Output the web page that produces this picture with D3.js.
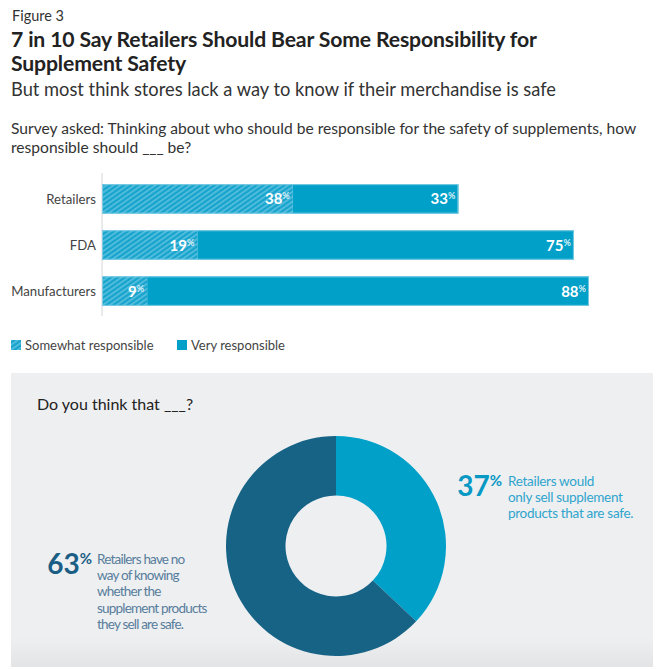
<!DOCTYPE html>
<html>
<head>
<meta charset="utf-8">
<script src="https://cdn.jsdelivr.net/npm/d3@7"></script>
<style>
  html, body { margin: 0; padding: 0; background: #fff; }
  svg { display: block; font-family: Lato, "Open Sans", sans-serif; }
</style>
</head>
<body>
<svg id="chart" width="661" height="670"></svg>
<script>
// ---- data ----
const categories = ["Retailers", "FDA", "Manufacturers"];
const somewhatValues = [38, 19, 9];
const veryValues = [33, 75, 88];
const seriesNames = ["Somewhat responsible", "Very responsible"];
const donutValues = [37, 63];
const donutTextRight = ["Retailers would", "only sell supplement", "products that are safe."];
const donutTextLeft = ["Retailers have no", "way of knowing", "whether the", "supplement products", "they sell are safe."];

const svg = d3.select("#chart");
const BLUE = "#00a0c9";
const DARK = "#166386";

const defs = svg.append("defs");
const pat = defs.append("pattern").attr("id", "hatch").attr("patternUnits", "userSpaceOnUse")
  .attr("width", 4).attr("height", 4).attr("patternTransform", "rotate(-35)");
pat.append("rect").attr("width", 4).attr("height", 4).attr("fill", "#16a4cd");
pat.append("rect").attr("width", 4).attr("height", 1.6).attr("fill", "#5cc0df");
const grad = defs.append("linearGradient").attr("id", "panelGrad").attr("x1", 0).attr("x2", 0).attr("y1", 0).attr("y2", 1);
grad.append("stop").attr("offset", "0.9").attr("stop-color", "#eeeff1");
grad.append("stop").attr("offset", "1").attr("stop-color", "#e3e4e6");

// ---- header texts ----
svg.append("text").attr("x", 12).attr("y", 21).attr("font-size", 14.5).attr("fill", "#333").text("Figure 3");
svg.append("text").attr("x", 11).attr("y", 47).attr("font-size", 21.2).attr("font-weight", 700).attr("fill", "#222")
  .attr("letter-spacing", -0.15).text("7 in 10 Say Retailers Should Bear Some Responsibility for");
svg.append("text").attr("x", 11).attr("y", 71).attr("font-size", 21.2).attr("font-weight", 700).attr("fill", "#222")
  .attr("letter-spacing", -0.15).text("Supplement Safety");
svg.append("text").attr("x", 11).attr("y", 96).attr("font-size", 18.3).attr("fill", "#333")
  .text("But most think stores lack a way to know if their merchandise is safe");
const q = svg.append("text").attr("font-size", 15.6).attr("fill", "#333");
q.append("tspan").attr("x", 11).attr("y", 134)
  .text("Survey asked: Thinking about who should be responsible for the safety of supplements, how");
q.append("tspan").attr("x", 11).attr("y", 153).text("responsible should ___ be?");

// ---- bar chart ----
const x = d3.scaleLinear().domain([0, 100]).range([102, 604]);
const y = d3.scaleBand().domain(categories).range([174, 316]).paddingInner(0.36).paddingOuter(0.22);

svg.append("line").attr("x1", 102).attr("x2", 102).attr("y1", 173).attr("y2", 316)
  .attr("stroke", "#d6d6d6").attr("stroke-width", 1);

const rows = categories.map((c, i) => ({ c, s: somewhatValues[i], v: veryValues[i] }));
const g = svg.append("g");
rows.forEach(d => {
  const y0 = y(d.c), h = y.bandwidth();
  g.append("rect").attr("x", x(0)).attr("y", y0).attr("width", x(d.s) - x(0)).attr("height", h)
    .attr("fill", "url(#hatch)");
  g.append("rect").attr("x", x(d.s)).attr("y", y0).attr("width", x(d.s + d.v) - x(d.s)).attr("height", h)
    .attr("fill", BLUE);
  g.append("rect").attr("x", x(0) + 0.5).attr("y", y0 + 0.5).attr("width", x(d.s + d.v) - x(0) - 1).attr("height", h - 1)
    .attr("fill", "none").attr("stroke", "#7ccbe4").attr("stroke-width", 1);
  g.append("text").attr("x", 96).attr("y", y0 + h / 2 + 5).attr("text-anchor", "end")
    .attr("font-size", 13.2).attr("fill", "#444").text(d.c);
  [[d.s, d.s], [d.v, d.s + d.v]].forEach(([val, end]) => {
    const t = g.append("text").attr("x", x(end) - 3).attr("y", y0 + h / 2 + 5.5).attr("text-anchor", "end")
      .attr("fill", "#fff").attr("font-weight", 700).attr("font-size", 15);
    t.append("tspan").text(val);
    t.append("tspan").attr("font-size", 9).attr("dy", -5).attr("fill", "#d8eef6").text("%");
  });
});

// legend
const leg = svg.append("g");
[[11, 25, "url(#hatch)"], [177, 191, BLUE]].forEach(([sx, tx, fill], i) => {
  leg.append("rect").attr("x", sx).attr("y", 340).attr("width", 10).attr("height", 10).attr("fill", fill);
  leg.append("text").attr("x", tx).attr("y", 349.5).attr("font-size", 13).attr("fill", "#444").text(seriesNames[i]);
});

// ---- donut panel ----
svg.append("rect").attr("x", 11).attr("y", 373).attr("width", 642).attr("height", 294).attr("fill", "url(#panelGrad)");
svg.append("text").attr("x", 37).attr("y", 410).attr("font-size", 16).attr("fill", "#222").text("Do you think that ___?");

const pie = d3.pie().sort(null).value(d => d);
const arc = d3.arc().innerRadius(50.5).outerRadius(110);
const colors = [BLUE, DARK];
svg.append("g").attr("transform", "translate(336,546)")
  .selectAll("path").data(pie(donutValues)).join("path")
  .attr("d", arc).attr("fill", (d, i) => colors[i]);

function bigPct(xEnd, yBase, val, col) {
  const t = svg.append("text").attr("x", xEnd).attr("y", yBase).attr("text-anchor", "end")
    .attr("fill", col).attr("font-weight", 700).attr("font-size", 28);
  t.append("tspan").text(val);
  t.append("tspan").attr("font-size", 15).attr("dy", -10).text("%");
}
function wrapLines(x0, y0, lines, col, ls) {
  const t = svg.append("text").attr("x", x0).attr("y", y0).attr("font-size", 13.5).attr("fill", col)
    .attr("letter-spacing", ls);
  lines.forEach((l, i) => t.append("tspan").attr("x", x0).attr("dy", i === 0 ? 0 : 16.2).text(l));
}
bigPct(502, 496, donutValues[0], "#0798c4");
wrapLines(508, 486, donutTextRight, "#2ea5cd", -0.3);

bigPct(92, 574, donutValues[1], "#1b5e85");
wrapLines(97, 564, donutTextLeft, "#587d9c", -0.8);
</script>
</body>
</html>
